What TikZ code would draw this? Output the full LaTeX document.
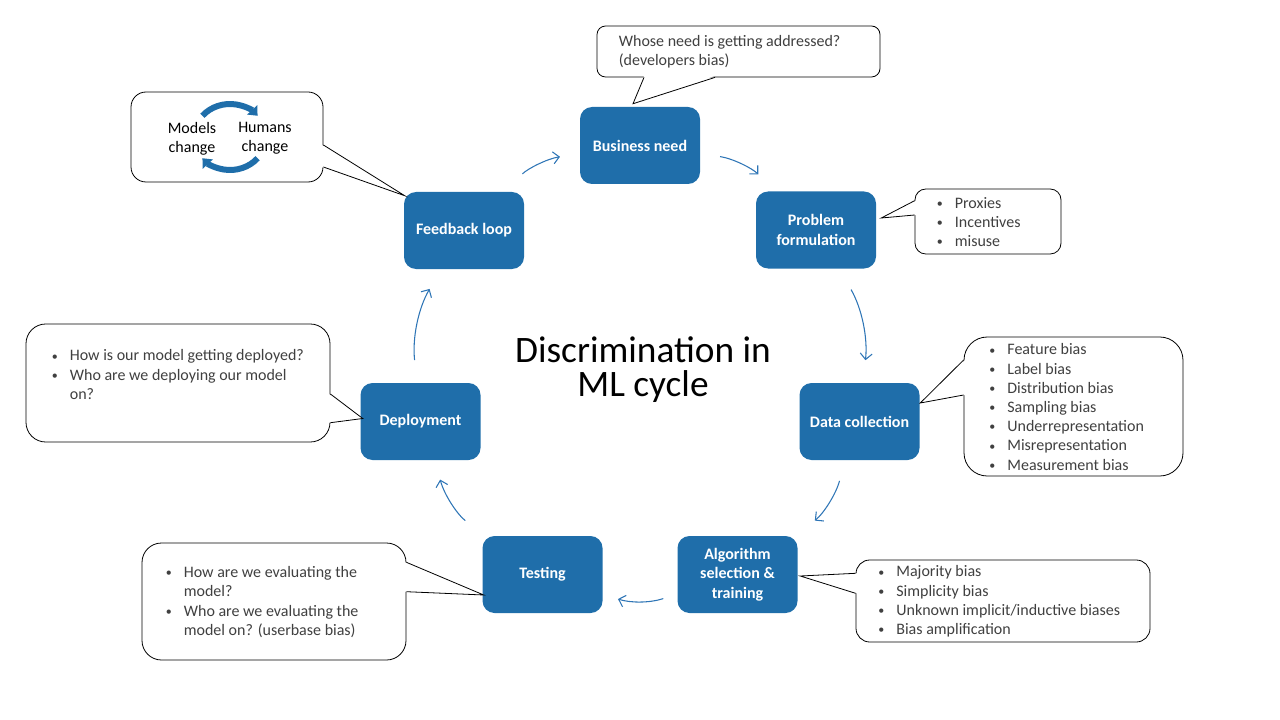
\documentclass[tikz,border=0pt]{standalone}
\usepackage{fontspec}
\setmainfont{Carlito}
\usetikzlibrary{calc}
\usetikzlibrary{arrows.meta}

\definecolor{boxblue}{RGB}{31,110,170}
\definecolor{arrowblue}{RGB}{46,117,182}
\definecolor{notegray}{RGB}{64,64,64}

\newcommand\notebullet{\makebox[13.5pt][l]{\raisebox{0.6pt}{\fontsize{9}{9}\selectfont\textbullet}}}
\newcommand\noteindent{\hspace*{13.5pt}}

\begin{document}
\begin{tikzpicture}[x=0.75pt,y=-0.75pt,
  stage/.style={fill=boxblue, rounded corners=9pt, minimum width=90pt, minimum height=57.75pt,
    text=white, font=\bfseries\fontsize{12}{14.6}\selectfont, align=center, inner sep=2pt},
  note/.style={draw=black, line width=0.6pt, fill=white},
  notetext/.style={anchor=west, text=notegray, font=\fontsize{12}{14.4}\selectfont, inner sep=0pt, align=left},
  pointer/.style={draw=black, line width=0.6pt},
  cyc/.style={arrowblue, line width=0.8pt, -{Straight Barb[length=4.5pt,width=9pt]}},
  turn/.style={boxblue, line width=4.5pt, -{Triangle[length=6pt,width=10pt]}},
]
\useasboundingbox (0,0) rectangle (1280,720);

% stages of the cycle
\node[stage] (need) at (640,145.5) {Business need};
\node[stage] (prob) at (816,230) {Problem\\formulation};
\node[stage] (data) at (859.5,421.5) {Data collection};
\node[stage] (algo) at (737.5,574.5) {Algorithm\\selection \&\\training};
\node[stage] (test) at (542.5,574.5) {Testing};
\node[stage] (dep) at (420.5,421.5) {Deployment};
\node[stage] (feed) at (464,230.5) {Feedback loop};

\node[font=\fontsize{28}{25.5}\selectfont, align=center] (title) at (643,370) {Discrimination in\\ML cycle};

% arrows between stages
\draw[cyc, shorten <=19pt, shorten >=15pt] (feed) to[bend left=18] (need);
\draw[cyc, shorten <=15pt, shorten >=18pt] (need) to[bend left=18] (prob);
\draw[cyc, shorten <=18pt, shorten >=17pt] (prob) to[bend left=18] (data);
\draw[cyc, shorten <=16pt, shorten >=18pt] (data) to[bend left=18] (algo);
\draw[cyc, shorten <=11pt, shorten >=12pt] (algo) to[bend left=18] (test);
\draw[cyc, shorten <=18pt, shorten >=15pt] (test) to[bend left=18] (dep);
\draw[cyc, shorten <=17pt, shorten >=17pt] (dep) to[bend left=18] (feed);

% business need
\node[note, rounded corners=6.4pt, minimum width=212.25pt, minimum height=38.25pt] (neednote) at (738.5,51.5) {};
\node[notetext] (needtxt) at ($(neednote.west)+(22,0.5)$) {Whose need is getting addressed?\\(developers bias)};
\fill[white] ($(neednote.south)+(-94.5,-1.5)$) -- ($(need.north)+(-7,-3)$) -- ($(neednote.south)+(-23.5,-1.5)$) -- cycle;
\draw[pointer] ($(neednote.south)+(-94.5,0)$) -- ($(need.north)+(-7,-3)$) -- ($(neednote.south)+(-23.5,0)$);

% feedback loop
\node[note, rounded corners=11.25pt, minimum width=144pt, minimum height=67.5pt] (feednote) at (227,137) {};
\coordinate (loop) at ($(feednote.center)+(3,0)$);
\draw[turn] ($(loop)+(-140:36 and 33)$) arc[start angle=-140, end angle=-40, x radius=36, y radius=33];
\draw[turn] ($(loop)+(40:36 and 33)$) arc[start angle=40, end angle=140, x radius=36, y radius=33];
\node[font=\fontsize{12}{14}\selectfont, align=center, inner sep=0pt] (models) at ($(loop)+(-38,1.5)$) {Models\\change};
\node[font=\fontsize{12}{14}\selectfont, align=center, inner sep=0pt] (humans) at ($(loop)+(35,1.5)$) {Humans\\change};
\fill[white] ($(feednote.east)+(-1.5,8)$) -- ($(feed.north west)+(1,4)$) -- ($(feednote.east)+(-1.5,30)$) -- cycle;
\draw[pointer] ($(feednote.east)+(0,8)$) -- ($(feed.north west)+(1,4)$) -- ($(feednote.east)+(0,30)$);

% problem formulation
\node[note, rounded corners=8.1pt, minimum width=109.5pt, minimum height=48.75pt] (probnote) at (988,221.5) {};
\node[notetext] (probtxt) at ($(probnote.west)+(22,0.5)$) {\notebullet Proxies\\\notebullet Incentives\\\notebullet misuse};
\fill[white] ($(probnote.west)+(1.5,-20.8)$) -- ($(prob.east)+(5,-12)$) -- ($(probnote.west)+(1.5,-6.5)$) -- cycle;
\draw[pointer] ($(probnote.west)+(0,-20.8)$) -- ($(prob.east)+(5,-12)$) -- ($(probnote.west)+(0,-6.5)$);

% data collection
\node[note, rounded corners=17.4pt, minimum width=164.25pt, minimum height=104.25pt] (datanote) at (1073.5,406.5) {};
\node[notetext] (datatxt) at ($(datanote.west)+(25.5,0.5)$) {\notebullet Feature bias\\\notebullet Label bias\\\notebullet Distribution bias\\\notebullet Sampling bias\\\notebullet Underrepresentation\\\notebullet Misrepresentation\\\notebullet Measurement bias};
\fill[white] ($(datanote.west)+(1.5,-46.5)$) -- ($(data.east)+(0.5,-18.5)$) -- ($(datanote.west)+(1.5,-11.5)$) -- cycle;
\draw[pointer] ($(datanote.west)+(0,-46.5)$) -- ($(data.east)+(0.5,-18.5)$) -- ($(datanote.west)+(0,-11.5)$);

% algorithm selection
\node[note, rounded corners=10.3pt, minimum width=220.5pt, minimum height=61.5pt] (algonote) at (1003,601) {};
\node[notetext] (algotxt) at ($(algonote.west)+(22.5,0.5)$) {\notebullet Majority bias\\\notebullet Simplicity bias\\\notebullet Unknown implicit/inductive biases\\\notebullet Bias amplification};
\fill[white] ($(algonote.west)+(1.5,-27.7)$) -- ($(algo.east)+(2.5,1.5)$) -- ($(algonote.west)+(1.5,-7.7)$) -- cycle;
\draw[pointer] ($(algonote.west)+(0,-27.7)$) -- ($(algo.east)+(2.5,1.5)$) -- ($(algonote.west)+(0,-7.7)$);

% testing
\node[note, rounded corners=14.6pt, minimum width=198pt, minimum height=87.75pt] (testnote) at (274,601.5) {};
\node[notetext] (testtxt) at ($(testnote.west)+(24,0.5)$) {\notebullet How are we evaluating the\\\noteindent model?\\\notebullet Who are we evaluating the\\\noteindent model on? (userbase bias)};
\fill[white] ($(testnote.east)+(-1.5,-39.2)$) -- ($(test.west)+(1.5,20.5)$) -- ($(testnote.east)+(-1.5,-9.8)$) -- cycle;
\draw[pointer] ($(testnote.east)+(0,-39.2)$) -- ($(test.west)+(1.5,20.5)$) -- ($(testnote.east)+(0,-9.8)$);

% deployment
\node[note, rounded corners=14.75pt, minimum width=228pt, minimum height=88.5pt] (depnote) at (178,383) {};
\node[notetext] (deptxt) at ($(depnote.west)+(26,-8.5)$) {\notebullet How is our model getting deployed?\\\notebullet Who are we deploying our model\\\noteindent on?};
\fill[white] ($(depnote.east)+(-1.5,11)$) -- ($(dep.west)+(2.5,-3)$) -- ($(depnote.east)+(-1.5,39.7)$) -- cycle;
\draw[pointer] ($(depnote.east)+(0,11)$) -- ($(dep.west)+(2.5,-3)$) -- ($(depnote.east)+(0,39.7)$);
\end{tikzpicture}
\end{document}
